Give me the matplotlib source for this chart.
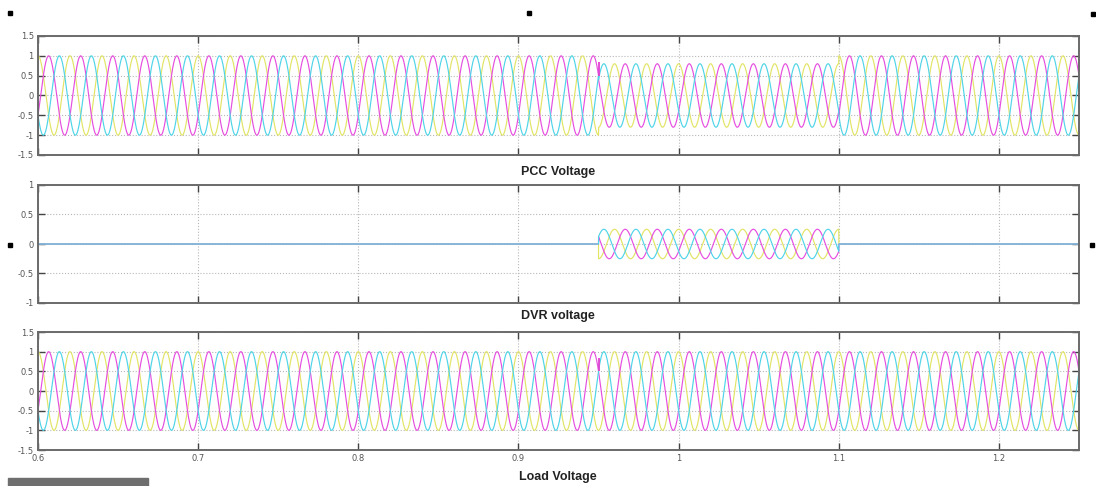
import numpy as np
import matplotlib
matplotlib.use("Agg")
import matplotlib.pyplot as plt
from matplotlib.patches import Rectangle

# ---------------- data ----------------
freq_hz = 50.0                      # supply frequency
t_range = [0.6, 1.25]               # time window shown
sag_window = [0.95, 1.10]           # voltage sag / DVR injection interval
pcc_amplitude = [1.0, 0.80, 1.0]    # PCC peak before / during / after sag
dvr_amplitude = [0.0, 0.25, 0.0]    # DVR injected peak before / during / after
load_amplitude = [1.0, 1.0, 1.0]    # load peak before / during / after
phase_shift_deg = [0.0, -120.0, 120.0]
phase_colors = ["#e2e466", "#e64ee0", "#4fd4e8"]   # yellow, magenta, cyan
spike_values = [0.50, 0.85]         # magenta transient at sag start

x_ticks = [0.6, 0.7, 0.8, 0.9, 1.0, 1.1, 1.2]
x_tick_labels = ["0.6", "0.7", "0.8", "0.9", "1", "1.1", "1.2"]
y_ticks_15 = [-1.5, -1, -0.5, 0, 0.5, 1, 1.5]
y_labels_15 = ["-1.5", "-1", "-0.5", "0", "0.5", "1", "1.5"]
y_ticks_1 = [-1, -0.5, 0, 0.5, 1]
y_labels_1 = ["-1", "-0.5", "0", "0.5", "1"]
titles = ["PCC Voltage", "DVR voltage", "Load Voltage"]

# ---------------- build signals ----------------
t = np.linspace(t_range[0], t_range[1], 20000)
seg = np.where(t < sag_window[0], 0, np.where(t < sag_window[1], 1, 2))


def three_phase(amps):
    a = np.asarray(amps)[seg]
    return [a * np.cos(2 * np.pi * freq_hz * t + np.deg2rad(p)) for p in phase_shift_deg]


pcc = three_phase(pcc_amplitude)
dvr = three_phase(dvr_amplitude)
load = three_phase(load_amplitude)

# ---------------- figure ----------------
W, H = 1096, 486
fig = plt.figure(figsize=(W / 100, H / 100), dpi=100)
fig.patch.set_facecolor("white")

left = 38 / W
width = (1079 - 38) / W
boxes = [(36, 155), (185, 303), (332, 450)]
title_y = [172, 316, 477]

signals = [pcc, dvr, load]
ylims = [(-1.5, 1.5), (-1, 1), (-1.5, 1.5)]
yticks = [y_ticks_15, y_ticks_1, y_ticks_15]
ylabels = [y_labels_15, y_labels_1, y_labels_15]

for i, (top, bot) in enumerate(boxes):
    ax = fig.add_axes([left, 1 - bot / H, width, (bot - top) / H])
    for sig, c in zip(signals[i], phase_colors):
        ax.plot(t, sig, color=c, lw=0.85)
    if i != 1:
        ax.plot([sag_window[0], sag_window[0]], spike_values,
                color="#e040d0", lw=1.3, solid_capstyle="butt")
    ax.set_xlim(*t_range)
    ax.set_ylim(*ylims[i])
    ax.set_xticks(x_ticks)
    ax.set_yticks(yticks[i])
    ax.set_yticklabels(ylabels[i])
    if i == 2:
        ax.set_xticklabels(x_tick_labels)
    else:
        ax.set_xticklabels([])
    ax.grid(True, color="#b8b8b8", linestyle=":", linewidth=0.8)
    ax.tick_params(direction="in", length=5, width=1.0, color="#444444",
                   labelsize=6, labelcolor="#555555", top=True, right=True, pad=3)
    for sp in ax.spines.values():
        sp.set_color("#6a6a6a")
        sp.set_linewidth(1.4)
    fig.text(558 / W, 1 - title_y[i] / H, titles[i], ha="center", va="center",
             fontsize=9, fontweight="bold", family="Liberation Sans", color="#222222")

# figure handle markers
for (x, y) in [(10, 13), (529, 13), (1093, 14), (10, 245), (1092, 245)]:
    fig.patches.append(Rectangle(((x - 2) / W, 1 - (y + 2) / H), 4 / W, 4 / H,
                                 transform=fig.transFigure, color="black"))
# grey status bar at bottom-left
fig.patches.append(Rectangle((8 / W, 0), 140 / W, 8 / H, transform=fig.transFigure,
                             color="#6e6e6e"))

fig.savefig("out.png", dpi=100)
